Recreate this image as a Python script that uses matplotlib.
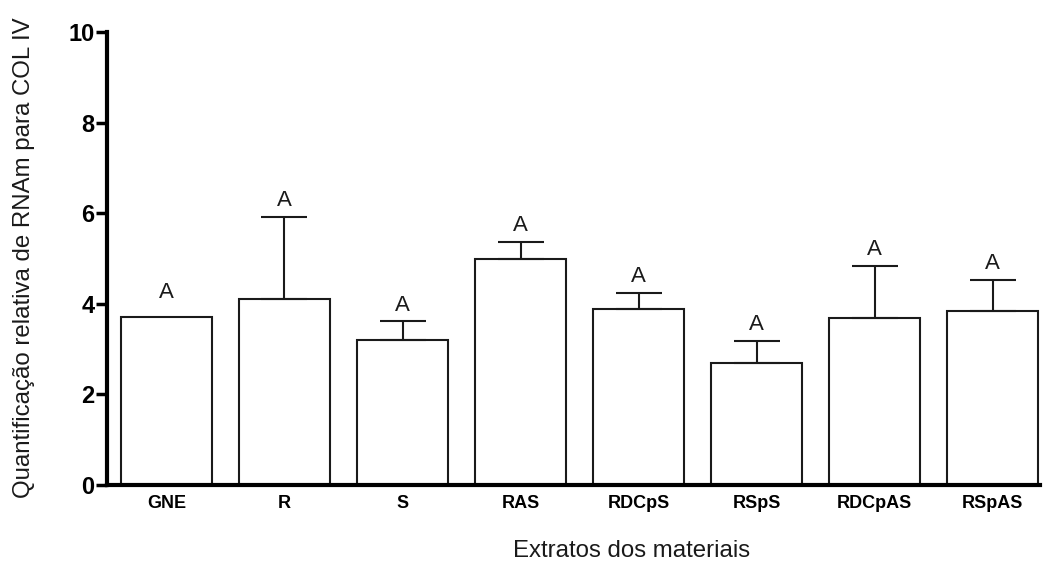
import matplotlib
matplotlib.use("Agg")
import matplotlib.pyplot as plt

# values
grupos = ['GNE', 'R', 'S', 'RAS', 'RDCpS', 'RSpS', 'RDCpAS', 'RSpAS']
medias = [3.71, 4.10, 3.20, 4.99, 3.89, 2.69, 3.69, 3.84]
erros = [0.0, 1.82, 0.42, 0.38, 0.35, 0.49, 1.15, 0.69]
letras = ['A', 'A', 'A', 'A', 'A', 'A', 'A', 'A']

plt.rcParams['font.family'] = ['Liberation Sans', 'DejaVu Sans']

fig = plt.figure(figsize=(10.45, 5.61), dpi=100)
ax = fig.add_axes([0.1024, 0.1355, 0.8926, 0.8075])

x = list(range(len(grupos)))
ax.bar(x, medias, width=0.77, color='white', edgecolor='#1a1a1a', linewidth=1.5, zorder=2)
for i in x:
    if erros[i] > 0:
        ax.errorbar(i, medias[i], yerr=[[0], [erros[i]]], fmt='none', ecolor='#1a1a1a',
                    elinewidth=1.5, capsize=16.5, capthick=1.5, zorder=3)
        topo = medias[i] + erros[i] + 0.12
    else:
        topo = medias[i] + 0.3
    ax.text(i, topo, letras[i], ha='center', va='bottom', fontsize=16, color='#1a1a1a')

ax.set_xlim(-0.504, 7.40)
ax.set_ylim(0, 10)
ax.set_yticks([0, 2, 4, 6, 8, 10])
ax.set_xticks(x)
ax.set_xticklabels(grupos, fontsize=13, fontweight='bold')
ax.tick_params(axis='x', length=0, pad=7)
ax.tick_params(axis='y', length=8, width=2.5, labelsize=17, pad=1)
for lab in ax.get_yticklabels():
    lab.set_fontweight('bold')

ax.spines['top'].set_visible(False)
ax.spines['right'].set_visible(False)
ax.spines['left'].set_linewidth(3)
ax.spines['bottom'].set_linewidth(3)

ax.set_ylabel('Quantificação relativa de RNAm para COL IV', fontsize=17.3, color='#1a1a1a')
ax.set_xlabel('Extratos dos materiais', fontsize=17.3, color='#1a1a1a')
ax.yaxis.set_label_coords(-0.077, 0.501)
ax.xaxis.set_label_coords(0.562, -0.121)

plt.savefig('out.png', dpi=100)
